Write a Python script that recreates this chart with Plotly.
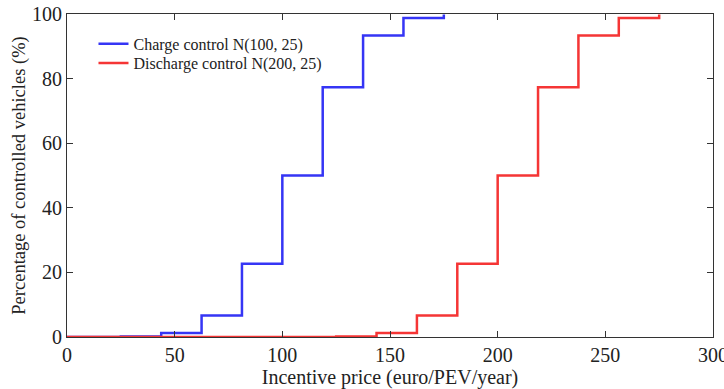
import plotly.graph_objects as go

charge_x = [0, 25, 43.75, 62.5, 81.25, 100, 118.75, 137.5, 156.25, 175]
charge_y = [0, 0.13, 1.22, 6.68, 22.66, 50, 77.34, 93.32, 98.78, 99.87]
discharge_x = [0, 125, 143.75, 162.5, 181.25, 200, 218.75, 237.5, 256.25, 275]
discharge_y = [0, 0.13, 1.22, 6.68, 22.66, 50, 77.34, 93.32, 98.78, 99.87]

fig = go.Figure()
fig.add_trace(go.Scatter(x=charge_x, y=charge_y, mode="lines", line_shape="hv",
                         line=dict(color="#3535f5", width=2.5),
                         name="Charge control N(100, 25)", legend="legend"))
fig.add_trace(go.Scatter(x=discharge_x, y=discharge_y, mode="lines", line_shape="hv",
                         line=dict(color="#f53535", width=2.5),
                         name="Discharge control N(200, 25)", legend="legend2"))

font = "Liberation Serif"
axis_common = dict(showgrid=False, zeroline=False, showline=True, linecolor="#333",
                   linewidth=1, mirror="ticks", ticks="inside", ticklen=6,
                   tickcolor="#333", automargin=False, ticklabeloverflow="allow",
                   tickfont=dict(family=font, size=20, color="#222"))
legend_common = dict(xanchor="left", yanchor="top", bgcolor="rgba(0,0,0,0)",
                     font=dict(family=font, size=16, color="#222"), itemwidth=30)
fig.update_layout(
    width=724, height=389,
    margin=dict(l=67, r=11, t=14, b=52, autoexpand=False),
    plot_bgcolor="white", paper_bgcolor="white",
    font=dict(family=font, size=19, color="#222"),
    xaxis=dict(range=[0, 300], tickvals=[0, 50, 100, 150, 200, 250, 300],
               title=dict(text="Incentive price (euro/PEV/year)", font=dict(size=20), standoff=2),
               **axis_common),
    yaxis=dict(range=[0, 100], tickvals=[0, 20, 40, 60, 80, 100],
               title=dict(text="Percentage of controlled vehicles (%)", font=dict(size=18.5), standoff=1),
               **axis_common),
    legend=dict(x=0.041, y=0.96, **legend_common),
    legend2=dict(x=0.041, y=0.901, **legend_common),
    showlegend=True,
)
fig.write_html("out.html", post_script="document.body.style.margin='0px';",
               config={"displayModeBar": False})
